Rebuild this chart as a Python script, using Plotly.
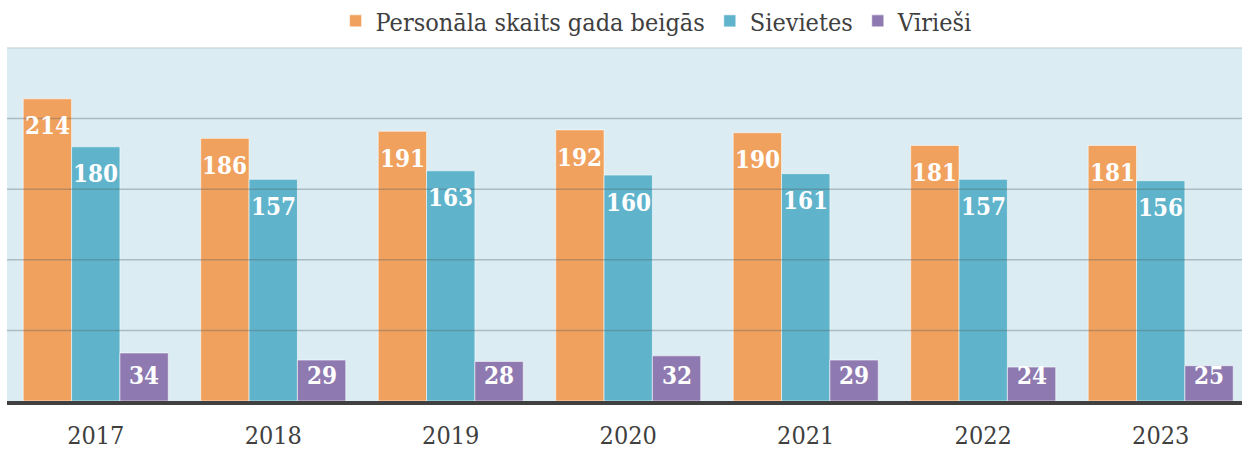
import plotly.graph_objects as go

# Staff numbers at year end, split by gender
years = ["2017", "2018", "2019", "2020", "2021", "2022", "2023"]
total = [214, 186, 191, 192, 190, 181, 181]
women = [180, 157, 163, 160, 161, 157, 156]
men = [34, 29, 28, 32, 29, 24, 25]

series_names = ["Personāla skaits gada beigās", "Sievietes", "Vīrieši"]
series_colors = ["#F1A15E", "#5FB4CC", "#8E7AB0"]
grid_values = [50, 100, 150, 200]

FONT = "DejaVu Serif Condensed, DejaVu Serif, serif"

fig = go.Figure()
for name, vals, color in zip(series_names, [total, women, men], series_colors):
    fig.add_trace(go.Bar(
        x=years, y=vals, name=name,
        marker=dict(color=color, line=dict(color="rgba(255,255,255,0.55)", width=1)),
        hoverinfo="x+y+name",
    ))

# value labels sit just inside the top of each bar, kept above the baseline
offsetgroups = [-1, 0, 1]
for k, vals in enumerate([total, women, men]):
    for i, v in enumerate(vals):
        fig.add_annotation(
            x=i, y=max(v - 19.2, 18.4), text=f"<b>{v}</b>",
            xshift=offsetgroups[k] * 48.5, showarrow=False,
            font=dict(family=FONT, size=24, color="white"),
            xanchor="center", yanchor="middle",
        )

# horizontal grid drawn over the bars
for g in grid_values:
    fig.add_shape(type="line", xref="paper", x0=0, x1=1, yref="y", y0=g, y1=g,
                  line=dict(color="rgba(80,95,100,0.35)", width=1.5), layer="above")

# faint frame along the top of the plotting area
fig.add_shape(type="line", xref="paper", x0=0, x1=1, yref="paper", y0=1, y1=1,
              line=dict(color="rgba(200,210,214,0.8)", width=1.5), layer="above")

fig.update_layout(
    width=1242, height=449,
    margin=dict(l=7, r=0, t=48, b=48, autoexpand=False),
    paper_bgcolor="white",
    plot_bgcolor="#DBEDF3",
    barmode="group", bargap=0.183, bargroupgap=0,
    font=dict(family=FONT, color="#404040"),
    showlegend=True,
    legend=dict(orientation="h", x=0.526, xanchor="center", y=1.011, yanchor="bottom",
                font=dict(family=FONT, size=25, color="#404040"),
                itemwidth=30, tracegroupgap=0,
                bgcolor="rgba(0,0,0,0)"),
    xaxis=dict(
        type="category", range=[-0.5, 6.458], automargin=False,
        showgrid=False, showline=True, linecolor="#404040", linewidth=4,
        ticks="outside", ticklen=9, tickcolor="rgba(0,0,0,0)",
        tickfont=dict(family=FONT, size=25, color="#404040"),
        fixedrange=True,
    ),
    yaxis=dict(range=[0, 250], showgrid=False, showticklabels=False,
               zeroline=False, fixedrange=True, automargin=False),
)

fig.write_html("out.html")
